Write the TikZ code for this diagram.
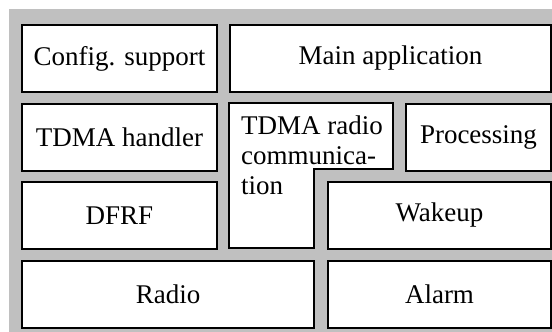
\documentclass[tikz,border=0pt]{standalone}
\usepackage{fontspec}
\setmainfont{Liberation Serif}
\definecolor{bggray}{RGB}{192,192,192}
\tikzset{
  blk/.style={draw=black, line width=2pt, fill=white, anchor=north west, inner sep=0pt,
    font=\fontsize{27}{30}\selectfont},
  lbl/.style={inner sep=0pt, font=\fontsize{27}{30}\selectfont}
}
\begin{document}
\begin{tikzpicture}[x=1pt,y=-1pt]
\useasboundingbox (0,0) rectangle (552,332);
\fill[white] (0,0) rectangle (552,332);
\fill[bggray] (9,9) rectangle (552,332);
\node[blk, minimum width=195pt, minimum height=67pt] (config) at (21,24) {Config. support};
\node[blk, minimum width=321pt, minimum height=67pt] (main) at (229,24) {Main application};
\node[blk, minimum width=195pt, minimum height=67pt] (tdmah) at (21,103) {TDMA handler};
\node[blk, minimum width=145pt, minimum height=67pt] (proc) at (405,103) {Processing};
\node[blk, minimum width=195pt, minimum height=67pt] (dfrf) at (21,181) {DFRF};
\node[blk, minimum width=223pt, minimum height=67pt] (wake) at (327,181) {Wakeup};
\node[blk, minimum width=292pt, minimum height=67pt] (radio) at (21,260) {Radio};
\node[blk, minimum width=223pt, minimum height=67pt] (alarm) at (327,260) {Alarm};
\draw[draw=black, line width=2pt, fill=white, line join=miter]
  (229,103) -- (393,103) -- (393,169) -- (314,169) -- (314,248) -- (229,248) -- cycle;
\node[lbl, anchor=north west, align=left] (tdmar) at (241,115.6) {TDMA radio\\communica-\\tion};
\end{tikzpicture}
\end{document}
